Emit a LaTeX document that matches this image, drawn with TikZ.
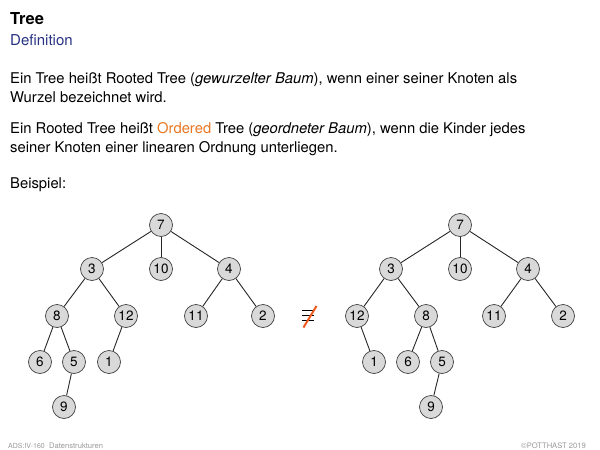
\documentclass[tikz,border=0pt]{standalone}
\usepackage{fontspec}
\setmainfont{TeX Gyre Heros}
\begin{document}
\begin{tikzpicture}[x=1pt,y=-1pt,
  tn/.style={circle,draw=black!75,line width=0.7pt,fill=black!15,minimum size=23pt,inner sep=0pt,font=\fontsize{13.5}{13.5}\selectfont},
  edge/.style={draw=black!85,line width=0.9pt},
  txt/.style={anchor=base west,inner sep=0pt,font=\fontsize{14.8}{17}\selectfont},
  foot/.style={inner sep=0pt,text=black!40,font=\fontsize{7}{7}\selectfont}]
\useasboundingbox (0,0) rectangle (600,450);
\definecolor{defblue}{RGB}{40,50,130}
\definecolor{ordorange}{RGB}{232,119,34}
\definecolor{slashorange}{RGB}{240,90,30}
\node[anchor=base west,inner sep=0pt,font=\fontsize{16.5}{18}\selectfont\bfseries] (title) at (10,24) {Tree};
\node[anchor=base west,inner sep=0pt,text=defblue,font=\fontsize{15}{17}\selectfont] (sub) at (10,45.7) {Definition};
\node[txt] (l1) at (10,83) {Ein Tree heißt Rooted Tree (\textit{gewurzelter Baum}), wenn einer seiner Knoten als};
\node[txt] (l2) at (10,102) {Wurzel bezeichnet wird.};
\node[txt] (l3) at (10,133) {Ein Rooted Tree heißt \textcolor{ordorange}{Ordered} Tree (\textit{geordneter Baum}), wenn die Kinder jedes};
\node[txt] (l4) at (10,152) {seiner Knoten einer linearen Ordnung unterliegen.};
\node[txt] (l5) at (10,188) {Beispiel:};
% left tree
\node[tn] (a7) at (161,225) {7};
\node[tn] (a3) at (92,269) {3};
\node[tn] (a10) at (161,269) {10};
\node[tn] (a4) at (229,269) {4};
\node[tn] (a8) at (57,316) {8};
\node[tn] (a12) at (126,316) {12};
\node[tn] (a11) at (196,316) {11};
\node[tn] (a2) at (263,316) {2};
\node[tn] (a6) at (40,362) {6};
\node[tn] (a5) at (74,362) {5};
\node[tn] (a1) at (109,362) {1};
\node[tn] (a9) at (64,407) {9};
\foreach \p/\c in {a7/a3,a7/a10,a7/a4,a3/a8,a3/a12,a4/a11,a4/a2,a8/a6,a8/a5,a12/a1,a5/a9}
  \draw[edge] (\p) -- (\c);
% right tree
\node[tn] (b7) at (460,225) {7};
\node[tn] (b3) at (391,269) {3};
\node[tn] (b10) at (460,269) {10};
\node[tn] (b4) at (528,269) {4};
\node[tn] (b12) at (357,316) {12};
\node[tn] (b8) at (426,316) {8};
\node[tn] (b11) at (494,316) {11};
\node[tn] (b2) at (563,316) {2};
\node[tn] (b1) at (374,362) {1};
\node[tn] (b6) at (408,362) {6};
\node[tn] (b5) at (442,362) {5};
\node[tn] (b9) at (431,407) {9};
\foreach \p/\c in {b7/b3,b7/b10,b7/b4,b3/b12,b3/b8,b4/b11,b4/b2,b12/b1,b8/b6,b8/b5,b5/b9}
  \draw[edge] (\p) -- (\c);
% not-equivalent sign
\draw[line width=1.3pt] (302,310.7) -- (314,310.7) (302,315.7) -- (314,315.7) (302,320.7) -- (314,320.7);
\draw[slashorange,line width=2pt] (303.5,327.5) -- (316.5,306);
% footer
\node[foot,anchor=west] (f1) at (8,446) {ADS:IV-160};
\node[foot,anchor=west,font=\fontsize{7.6}{8}\selectfont] (f2) at (49,446) {Datenstrukturen};
\node[foot,anchor=east,font=\fontsize{7.6}{8}\selectfont] (f3) at (586,446) {©POTTHAST 2019};
\end{tikzpicture}
\end{document}
